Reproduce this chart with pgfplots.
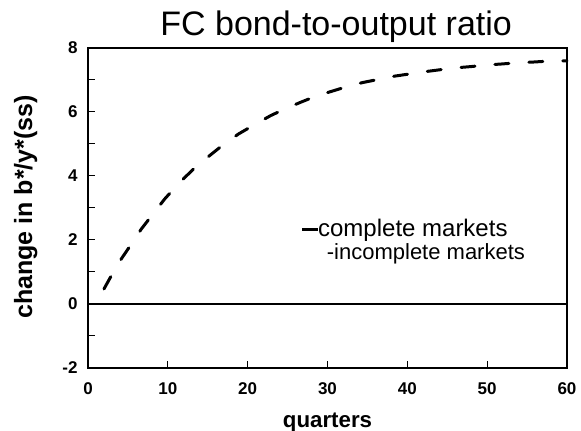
\documentclass[border=0pt]{standalone}
\usepackage{pgfplots}
\pgfplotsset{compat=1.18}
\usepackage{fontspec}
\setmainfont{Liberation Sans}

\begin{document}
\begin{tikzpicture}
  \begin{axis}[
    scale only axis,
    width=479pt,
    height=320pt,
    xmin=0, xmax=60,
    ymin=-2, ymax=8,
    xtick={0,10,...,60},
    ytick={-2,0,...,8},
    minor y tick num=1,
    xtick pos=bottom,
    ytick pos=left,
    tick align=inside,
    major tick length=7pt,
    minor tick length=7pt,
    axis line style={line width=2.2pt},
    every tick/.style={black, line width=1pt},
    tick label style={font=\fontsize{17}{17}\selectfont\bfseries},
    /pgf/number format/assume math mode=true,
    xticklabel style={yshift=-11pt},
    yticklabel style={xshift=-7pt},
    xlabel={quarters},
    ylabel={change in b*/y*(ss)},
    xlabel style={font=\fontsize{22.3}{22.3}\selectfont\bfseries,
      at={(rel axis cs:0.5,0)}, anchor=base, inner sep=0pt, yshift=-59pt},
    ylabel style={font=\fontsize{25}{25}\selectfont\bfseries,
      at={(rel axis cs:0,0.503)}, anchor=south, yshift=47pt},
    clip=false,
  ]

  % complete markets: no change
  \addplot[black, line width=2pt] coordinates {(0,0) (60,0)};

  % incomplete markets
  \addplot[black, line width=3pt, line cap=round, dash pattern=on 14pt off 20pt] coordinates {
    (2.0,0.47) (3.0,0.92) (4.2,1.42) (5.4,1.86) (6.7,2.35) (8.1,2.80)
    (9.6,3.28) (11.3,3.75) (13.3,4.24) (15.2,4.63) (17.1,5.01) (18.9,5.32)
    (20.9,5.61) (22.9,5.89) (24.8,6.11) (26.6,6.30) (28.6,6.50) (30.7,6.66)
    (32.4,6.79) (34.4,6.92) (36.4,7.02) (38.4,7.12) (40.3,7.19) (42.2,7.26)
    (44.1,7.32) (46.1,7.38) (48.0,7.42) (50.0,7.47) (51.8,7.50) (53.9,7.54)
    (55.7,7.56) (57.7,7.59) (60.0,7.60)
  };

  \node[anchor=base, inner sep=0pt, font=\fontsize{34}{34}\selectfont]
    at (rel axis cs:0.518,1.0375) {FC bond-to-output ratio};

  \node[anchor=base west, inner sep=0pt, font=\fontsize{24}{24}\selectfont]
    at (axis cs:26.8,2.1) {\rule[6pt]{16pt}{2.6pt}complete markets};
  \node[anchor=base west, inner sep=0pt, font=\fontsize{22}{22}\selectfont]
    at (axis cs:29.9,1.375) {-incomplete markets};

  \end{axis}
  \pgfresetboundingbox
  \path (-88pt,-63pt) rectangle (493pt,368pt);
\end{tikzpicture}
\end{document}
